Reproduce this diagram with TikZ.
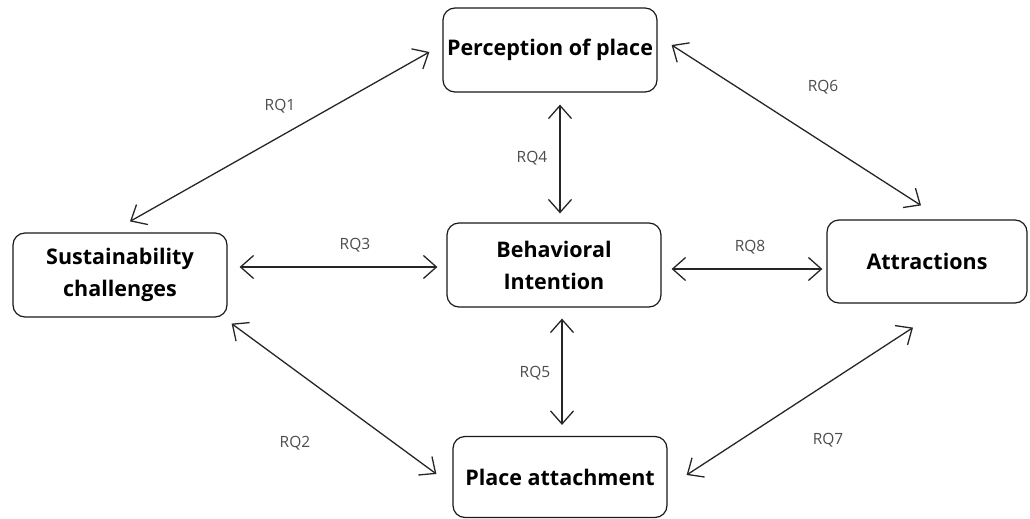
\documentclass[tikz,border=0pt]{standalone}
\usepackage{fontspec}
\setmainfont{Open Sans}
\usetikzlibrary{arrows.meta}
\tikzset{
  box/.style={draw=black!90, line width=1.2pt, rounded corners=12pt, fill=white,
    minimum width=214pt, minimum height=84pt, inner sep=0pt, align=center,
    font=\fontsize{21.5}{32}\selectfont\bfseries},
  arr/.style={draw=black!85, line width=1.3pt,
    {Straight Barb[length=13pt,width=23pt,line width=1.3pt]}-{Straight Barb[length=13pt,width=23pt,line width=1.3pt]}},
  lbl/.style={font=\fontsize{15.5}{18}\selectfont, text=black!70, inner sep=0pt}
}
\begin{document}
\begin{tikzpicture}[x=1pt,y=-1pt]
\useasboundingbox (0,0) rectangle (1030,519);
\node[box] (perc) at (550,50) {Perception of place};
\node[box] (sust) at (120,275) {Sustainability\\challenges};
\node[box] (beh) at (554,265) {Behavioral\\Intention};
\node[box, minimum width=200pt, minimum height=83pt] (attr) at (927,261.5) {Attractions};
\node[box, minimum height=81pt] (place) at (560,477) {Place attachment};

\draw[arr] ([shift={(10,-11)}]sust.north) -- ([shift={(-13,2)}]perc.west);
\draw[arr] ([shift={(14,-5)}]perc.east) -- ([shift={(-6,-14)}]attr.north);
\draw[arr] ([shift={(10,12)}]perc.south) -- ([shift={(6,-9)}]beh.north);
\draw[arr] ([shift={(12,-8)}]sust.east) -- ([shift={(-9,2)}]beh.west);
\draw[arr] ([shift={(10,4)}]beh.east) -- ([shift={(-4,7.5)}]attr.west);
\draw[arr] ([shift={(8,11)}]beh.south) -- ([shift={(2,-11)}]place.north);
\draw[arr] ([shift={(4,6)}]sust.south east) -- ([shift={(-16,-3)}]place.west);
\draw[arr] ([shift={(19,-2)}]place.east) -- ([shift={(-14,24)}]attr.south);

\node[lbl] (l1) at (280,106) {RQ1};
\node[lbl] (l6) at (823,87) {RQ6};
\node[lbl] (l4) at (532,158) {RQ4};
\node[lbl] (l3) at (355,245) {RQ3};
\node[lbl] (l8) at (750,247) {RQ8};
\node[lbl] (l5) at (535,373) {RQ5};
\node[lbl] (l2) at (295,443) {RQ2};
\node[lbl] (l7) at (828,440) {RQ7};
\end{tikzpicture}
\end{document}
